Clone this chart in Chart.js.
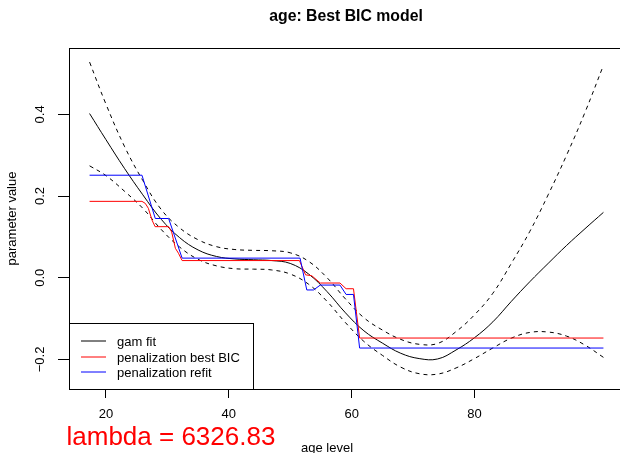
<!DOCTYPE html>
<html><head><meta charset="utf-8">
<script src="https://cdn.jsdelivr.net/npm/chart.js@4.4.1/dist/chart.umd.min.js"></script>
<style>
html,body{margin:0;padding:0;overflow:hidden;background:#fff;width:620px;height:453px}
#wrap{width:620px;height:453px;overflow:hidden;position:relative}
canvas{display:block}
</style></head><body>
<div id="wrap"><canvas id="c" width="630" height="453"></canvas></div>
<script>
// ---- data ----
const chartTitle = 'age: Best BIC model';
const xTitle = 'age level';
const yTitle = 'parameter value';
const lambdaText = 'lambda = 6326.83';
const seriesNames = ['gam fit', 'penalization best BIC', 'penalization refit'];

const fitAges   = [17.33, 20, 23, 26, 29, 32, 35, 38, 41, 44, 47, 50, 53, 56, 59, 62, 65, 68, 71, 74, 77, 80, 83, 86, 89, 92, 95, 98, 101];
const gamFit    = [0.402, 0.338, 0.268, 0.203, 0.143, 0.098, 0.068, 0.052, 0.046, 0.044, 0.042, 0.035, 0.009, -0.034, -0.086, -0.130, -0.160, -0.185, -0.198, -0.199, -0.177, -0.147, -0.108, -0.058, -0.010, 0.035, 0.079, 0.120, 0.160];
const upperBand = [0.528, 0.425, 0.322, 0.238, 0.167, 0.122, 0.093, 0.076, 0.069, 0.067, 0.066, 0.061, 0.040, 0.000, -0.052, -0.098, -0.128, -0.151, -0.163, -0.161, -0.132, -0.091, -0.038, 0.035, 0.113, 0.203, 0.300, 0.405, 0.520];
const lowerBand = [0.274, 0.250, 0.212, 0.170, 0.118, 0.075, 0.045, 0.029, 0.022, 0.021, 0.019, 0.009, -0.016, -0.058, -0.110, -0.156, -0.190, -0.219, -0.235, -0.236, -0.221, -0.198, -0.172, -0.148, -0.134, -0.133, -0.143, -0.165, -0.195];

const bicAges   = [17.33, 25.86, 26.4, 26.9, 27.5, 28.0, 30.2, 30.7, 31.3, 31.8, 32.4, 51.5, 52.5, 53.5, 54.9, 58.1, 59.1, 60.3, 61.3, 101];
const bicValues = [0.187, 0.187, 0.182, 0.170, 0.141, 0.125, 0.125, 0.112, 0.072, 0.060, 0.042, 0.042, 0.007, 0.005, -0.013, -0.013, -0.027, -0.027, -0.1477, -0.1477];

const refitAges   = [17.33, 25.86, 28.03, 30.2, 32.4, 51.6, 52.7, 53.8, 54.9, 58.1, 59.1, 60.3, 61.3, 101];
const refitValues = [0.251, 0.251, 0.145, 0.145, 0.048, 0.048, -0.030, -0.030, -0.018, -0.018, -0.041, -0.041, -0.1722, -0.1722];

const xTicks = [20, 40, 60, 80];
const xTickLabels = ['20', '40', '60', '80'];
const yTicks = [-0.2, 0, 0.2, 0.4];
const yTickLabels = ['\u22120.2', '0.0', '0.2', '0.4'];
const xRange = [13.98, 104.35];
const yRange = [-0.2725, 0.5625];

// ---- drawing ----
const FONT = "'Liberation Sans', Arial, Helvetica, sans-serif";
const pts = (xs, ys) => xs.map((x, i) => ({x: x, y: ys[i]}));

const framePlugin = {
  id: 'frame',
  afterDraw(chart) {
    const {ctx, chartArea: a, scales: {y}} = chart;
    ctx.save();
    ctx.strokeStyle = '#000'; ctx.lineWidth = 1;
    const L = Math.round(a.left) + 0.5, T = Math.round(a.top) + 0.5,
          R = Math.round(a.right) + 0.5, B = Math.round(a.bottom) + 0.5;
    ctx.strokeRect(L, T, R - L, B - T);
    ctx.fillStyle = '#000';
    ctx.font = '13px ' + FONT;
    ctx.textAlign = 'center'; ctx.textBaseline = 'alphabetic';
    yTicks.forEach((v, i) => {
      const p = y.getPixelForValue(v);
      ctx.save(); ctx.translate(44, p); ctx.rotate(-Math.PI / 2);
      ctx.fillText(yTickLabels[i], 0, 0); ctx.restore();
    });
    ctx.save(); ctx.translate(16, (a.top + a.bottom) / 2); ctx.rotate(-Math.PI / 2);
    ctx.fillText(yTitle, 0, 0); ctx.restore();
    ctx.fillText(xTitle, 327, 452);
    ctx.font = 'bold 15.8px ' + FONT;
    ctx.fillText(chartTitle, 346, 20.7);
    ctx.font = '26px ' + FONT;
    ctx.fillStyle = '#ff0000'; ctx.textAlign = 'left';
    ctx.fillText(lambdaText, 66.5, 445);
    const lx = L, ly = 323.5, lw = 184, lh = B - ly;
    ctx.fillStyle = '#fff'; ctx.fillRect(lx, ly, lw, lh);
    ctx.strokeStyle = '#000'; ctx.strokeRect(lx, ly, lw, lh);
    const cols = ['#000000', '#ff0000', '#0000ff'];
    const rows = [341, 357, 372];
    ctx.font = '13px ' + FONT; ctx.textBaseline = 'middle'; ctx.textAlign = 'left';
    seriesNames.forEach((n, i) => {
      ctx.strokeStyle = cols[i]; ctx.beginPath();
      ctx.moveTo(81, rows[i]); ctx.lineTo(106, rows[i]); ctx.stroke();
      ctx.fillStyle = '#000'; ctx.fillText(n, 117, rows[i] + 1);
    });
    ctx.restore();
  }
};

new Chart(document.getElementById('c'), {
  type: 'line',
  data: {
    datasets: [
      {label: seriesNames[2], data: pts(refitAges, refitValues), borderColor: '#0000ff', borderWidth: 1, pointRadius: 0, tension: 0},
      {label: seriesNames[1], data: pts(bicAges, bicValues), borderColor: '#ff0000', borderWidth: 1, pointRadius: 0, tension: 0},
      {label: seriesNames[0], data: pts(fitAges, gamFit), borderColor: '#000000', borderWidth: 1, pointRadius: 0, tension: 0.4},
      {label: 'upper', data: pts(fitAges, upperBand), borderColor: '#000000', borderWidth: 1, borderDash: [4, 4], pointRadius: 0, tension: 0.4},
      {label: 'lower', data: pts(fitAges, lowerBand), borderColor: '#000000', borderWidth: 1, borderDash: [4, 4], pointRadius: 0, tension: 0.4}
    ]
  },
  options: {
    responsive: false, animation: false, devicePixelRatio: 1,
    layout: {padding: {top: 48, right: 6, left: 0, bottom: 0}},
    plugins: {legend: {display: false}, title: {display: false}, tooltip: {enabled: false}},
    scales: {
      x: {
        type: 'linear', min: xRange[0], max: xRange[1],
        afterBuildTicks: s => { s.ticks = xTicks.map(v => ({value: v})); },
        afterFit: s => { s.height = 64; },
        ticks: {font: {family: FONT, size: 13}, color: '#000', padding: 9, maxRotation: 0, autoSkip: false,
                callback: v => xTickLabels[xTicks.indexOf(v)]},
        grid: {drawOnChartArea: false, drawTicks: true, tickLength: 9, color: '#000', lineWidth: 1},
        border: {display: false}
      },
      y: {
        type: 'linear', min: yRange[0], max: yRange[1],
        afterBuildTicks: s => { s.ticks = yTicks.map(v => ({value: v})); },
        afterFit: s => { s.width = 69; },
        ticks: {display: false},
        grid: {drawOnChartArea: false, drawTicks: true, tickLength: 11, color: '#000', lineWidth: 1},
        border: {display: false}
      }
    }
  },
  plugins: [framePlugin]
});
</script>
</body></html>
